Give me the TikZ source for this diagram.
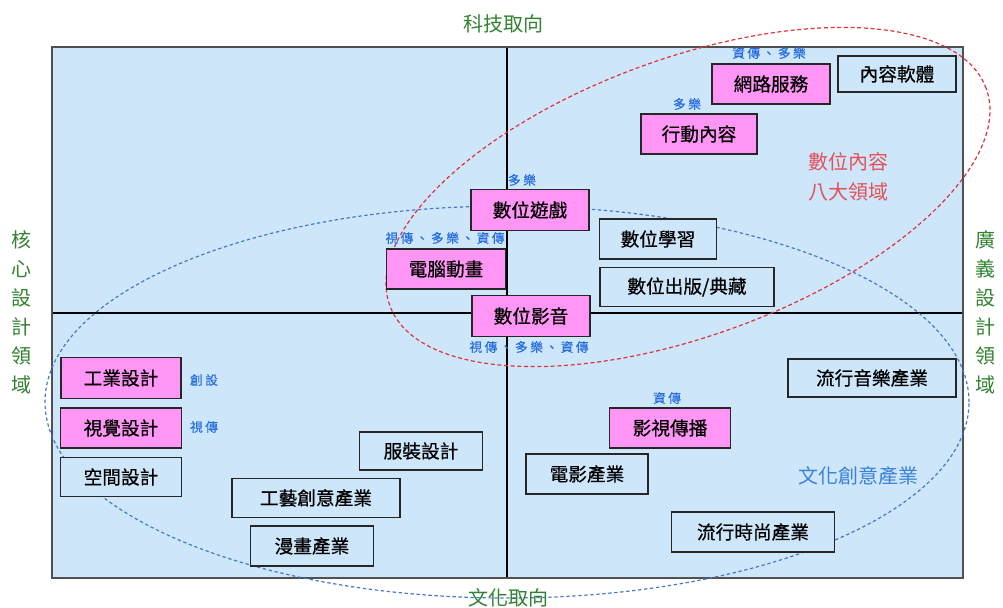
\documentclass[tikz,border=0pt]{standalone}
\usepackage{fontspec}
\setmainfont{Noto Sans CJK TC}
\newfontfamily\tagfont[LetterSpace=20,FakeBold=0.3]{Noto Sans CJK TC}
\newfontfamily\boxfont[FakeBold=0.6]{Noto Sans CJK TC}
\definecolor{bgblue}{RGB}{205,230,250}
\definecolor{pinkfill}{RGB}{255,150,245}
\definecolor{framegray}{RGB}{80,80,80}
\definecolor{tagblue}{RGB}{40,110,225}
\definecolor{culblue}{RGB}{60,130,215}
\definecolor{ellblue}{RGB}{70,120,200}
\definecolor{ellred}{RGB}{225,50,60}
\definecolor{axgreen}{RGB}{50,130,50}
\tikzset{
  item/.style={draw=black!85, line width=0.9pt, fill=bgblue, inner sep=0pt,
    font=\boxfont\fontsize{14}{16}\selectfont, minimum height=29pt},
  hot/.style={item, fill=pinkfill},
  tag/.style={text=tagblue, font=\tagfont\fontsize{9.5}{10}\selectfont, inner sep=0pt},
  axislabel/.style={text=axgreen, font=\fontsize{15}{18}\selectfont, inner sep=0pt},
  sidelabel/.style={text=axgreen, font=\fontsize{15}{21.75}\selectfont, align=center, inner sep=0pt},
}
\begin{document}
\begin{tikzpicture}[x=0.75pt,y=-0.75pt]
\useasboundingbox (0,0) rectangle (1003,607);
% background
\fill[bgblue] (52,47) rectangle (963,578);
% axes
\draw[black, line width=1.9pt] (507,47) -- (507,578);
\draw[black, line width=1.9pt] (52,313) -- (963,313);
\draw[framegray, line width=1.5pt] (52,47) rectangle (963,578);
% ellipses
\draw[ellblue, line width=0.9pt, dash pattern=on 2.5pt off 2pt]
  (507,402) ellipse [x radius=346.5pt, y radius=147pt];
\draw[ellred, line width=0.9pt, dash pattern=on 3pt off 2pt, rotate around={20:(688,197)}]
  (688,197) ellipse [x radius=238pt, y radius=104pt];
% axis labels
\node[axislabel] (tech) at (503,24) {科技取向};
\node[axislabel] (cult) at (508,598) {文化取向};
\node[sidelabel] (core) at (22,312) {核\\心\\設\\計\\領\\域};
\node[sidelabel] (broad) at (985,312) {廣\\義\\設\\計\\領\\域};
% region labels
\node[text=ellred!85, font=\fontsize{15}{22.5}\selectfont, align=center, inner sep=0pt] (digital) at (848,177) {數位內容\\八大領域};
\node[text=culblue, font=\fontsize{15}{18}\selectfont, inner sep=0pt] (culture) at (858,476) {文化創意產業};
% boxes
\node[hot, minimum width=88.5pt, minimum height=30pt] (net) at (771,84) {網路服務};
\node[item, minimum width=88.5pt, minimum height=27pt] (soft) at (897,74) {內容軟體};
\node[hot, minimum width=87pt, minimum height=30pt] (mobile) at (699,134) {行動內容};
\node[hot, minimum width=88.5pt, minimum height=30.5pt] (game) at (530,210) {數位遊戲};
\node[item, minimum width=88pt, minimum height=30pt] (learn) at (658,239) {數位學習};
\node[hot, minimum width=89pt, minimum height=30pt] (anim) at (446,269) {電腦動畫};
\node[item, minimum width=130.5pt, minimum height=29pt] (pub) at (687,287) {數位出版/典藏};
\node[hot, minimum width=88.5pt, minimum height=30.5pt] (av) at (531,316) {數位影音};
\node[hot, minimum width=90pt, minimum height=31pt] (ind) at (121,378) {工業設計};
\node[hot, minimum width=91pt, minimum height=30pt] (vis) at (121,428) {視覺設計};
\node[item, minimum width=91pt, minimum height=29pt] (space) at (121,477) {空間設計};
\node[item, minimum width=92pt, minimum height=28.5pt] (fashion) at (421,451) {服裝設計};
\node[item, minimum width=126pt, minimum height=29pt] (craft) at (316,498) {工藝創意產業};
\node[item, minimum width=92pt, minimum height=30pt] (comic) at (312,546) {漫畫產業};
\node[item, minimum width=126pt, minimum height=28.5pt] (music) at (872,378) {流行音樂產業};
\node[hot, minimum width=91pt, minimum height=30pt] (tv) at (670,428) {影視傳播};
\node[item, minimum width=91.5pt, minimum height=30pt] (film) at (587,474) {電影產業};
\node[item, minimum width=122pt, minimum height=30pt] (trend) at (753,532) {流行時尚產業};
% tags
\node[tag] (t1) at (769,53) {資傳、多樂};
\node[tag] (t2) at (687,104) {多樂};
\node[tag] (t3) at (522,180) {多樂};
\node[tag] (t4) at (445,238) {視傳、多樂、資傳};
\node[tag] (t5) at (529,347) {視傳、多樂、資傳};
\node[tag] (t6) at (204,380) {創設};
\node[tag] (t7) at (204,427) {視傳};
\node[tag] (t8) at (667,398) {資傳};
\end{tikzpicture}
\end{document}
